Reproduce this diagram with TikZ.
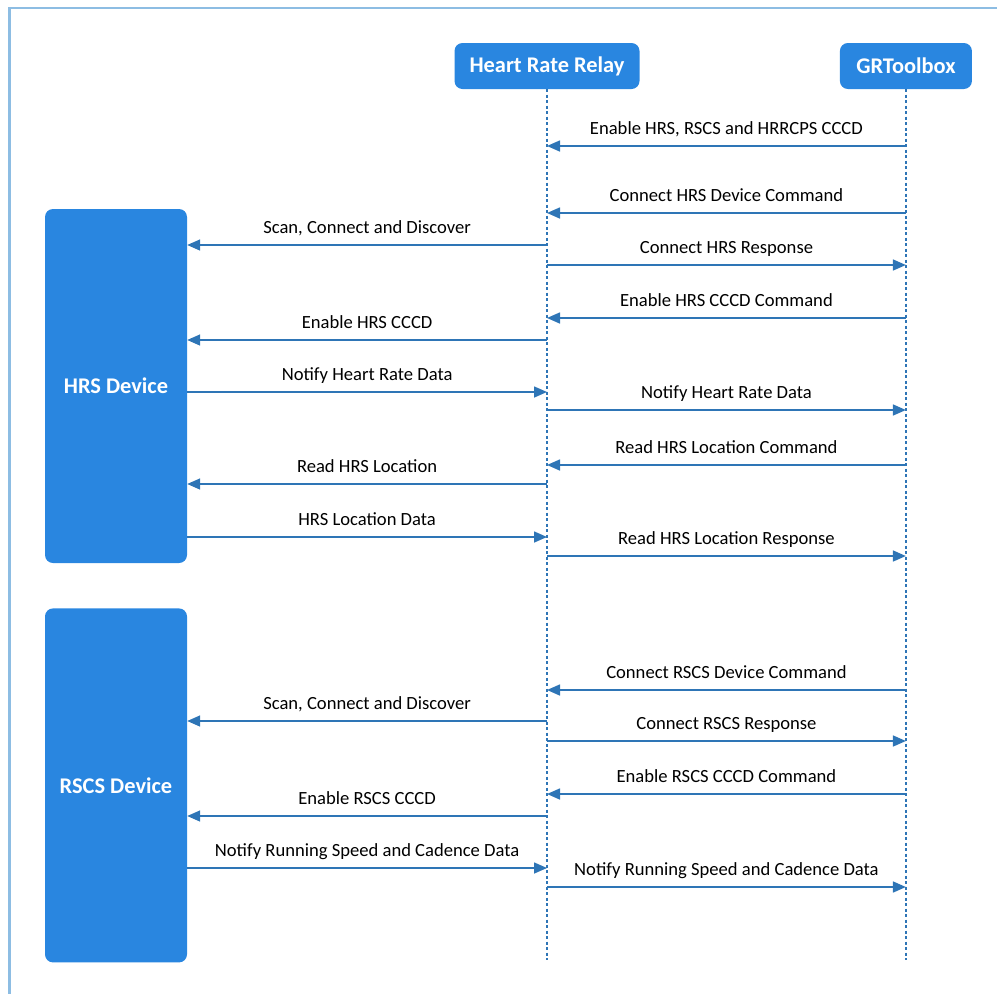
\documentclass[tikz,border=0pt]{standalone}
\usepackage{fontspec}
\setmainfont{Carlito}
\usetikzlibrary{positioning,arrows.meta}
\definecolor{boxblue}{HTML}{2986E0}
\definecolor{lineblue}{HTML}{2E75B6}
\definecolor{frameblue}{HTML}{8DBDE3}
\begin{document}
\begin{tikzpicture}[x=1pt, y=-1pt, node distance={45pt},
	head/.style = {fill=boxblue, text=white, rounded corners=8pt, inner sep=0pt, minimum height=46pt, font=\bfseries\fontsize{22.4}{26}\selectfont},
	dev/.style = {fill=boxblue, text=white, rounded corners=8pt, inner sep=0pt, minimum width=142pt, minimum height=354pt, font=\bfseries\fontsize{22.4}{26}\selectfont},
	life/.style = {lineblue, line width=2pt, dash pattern=on 3pt off 2.5pt},
	msg/.style = {lineblue, line width=1.6pt, -{Triangle[length=13pt,width=11pt]}},
	lbl/.style = {midway, above=16pt, anchor=center, inner sep=0pt, text height=13pt, text depth=4pt, text=black, font=\fontsize{18.6}{22}\selectfont}]
		\useasboundingbox (0,0) rectangle (997,994);
		\draw[frameblue, line width=2.5pt] (9.5,994) -- (9.5,8) -- (997,8);
		\node[head, minimum width=185pt] (relay) at (547,66) {Heart Rate Relay};
		\node[head, minimum width=132pt] (gr) [right=200pt of relay] {GRToolbox};
		\node[dev] (hrs) at (116,386) {HRS Device};
		\node[dev] (rscs) [below=of hrs] {RSCS Device};
		\coordinate (relayend) at (547,960);
		\draw[life] (relay.south) -- (relayend);
		\draw[life] (gr.south) -- (gr.south |- relayend);
		\coordinate (m1) at (547,146);
		\coordinate (m2) at (547,213);
		\coordinate (m3) at (547,245);
		\coordinate (m4) at (547,265);
		\coordinate (m5) at (547,318);
		\coordinate (m6) at (547,340);
		\coordinate (m7) at (547,392);
		\coordinate (m8) at (547,410);
		\coordinate (m9) at (547,465);
		\coordinate (m10) at (547,484);
		\coordinate (m11) at (547,537);
		\coordinate (m12) at (547,556);
		\coordinate (m13) at (547,690);
		\coordinate (m14) at (547,721);
		\coordinate (m15) at (547,741);
		\coordinate (m16) at (547,794);
		\coordinate (m17) at (547,816);
		\coordinate (m18) at (547,868);
		\coordinate (m19) at (547,887);
		\draw[msg] (m1 -| gr) to node[lbl] {Enable HRS, RSCS and HRRCPS CCCD} (m1);
		\draw[msg] (m2 -| gr) to node[lbl] {Connect HRS Device Command} (m2);
		\draw[msg] (m3) to node[lbl] {Scan, Connect and Discover} (m3 -| hrs.east);
		\draw[msg] (m4) to node[lbl] {Connect HRS Response} (m4 -| gr);
		\draw[msg] (m5 -| gr) to node[lbl] {Enable HRS CCCD Command} (m5);
		\draw[msg] (m6) to node[lbl] {Enable HRS CCCD} (m6 -| hrs.east);
		\draw[msg] (m7 -| hrs.east) to node[lbl] {Notify Heart Rate Data} (m7);
		\draw[msg] (m8) to node[lbl] {Notify Heart Rate Data} (m8 -| gr);
		\draw[msg] (m9 -| gr) to node[lbl] {Read HRS Location Command} (m9);
		\draw[msg] (m10) to node[lbl] {Read HRS Location} (m10 -| hrs.east);
		\draw[msg] (m11 -| hrs.east) to node[lbl] {HRS Location Data} (m11);
		\draw[msg] (m12) to node[lbl] {Read HRS Location Response} (m12 -| gr);
		\draw[msg] (m13 -| gr) to node[lbl] {Connect RSCS Device Command} (m13);
		\draw[msg] (m14) to node[lbl] {Scan, Connect and Discover} (m14 -| rscs.east);
		\draw[msg] (m15) to node[lbl] {Connect RSCS Response} (m15 -| gr);
		\draw[msg] (m16 -| gr) to node[lbl] {Enable RSCS CCCD Command} (m16);
		\draw[msg] (m17) to node[lbl] {Enable RSCS CCCD} (m17 -| rscs.east);
		\draw[msg] (m18 -| rscs.east) to node[lbl] {Notify Running Speed and Cadence Data} (m18);
		\draw[msg] (m19) to node[lbl] {Notify Running Speed and Cadence Data} (m19 -| gr);

	\end{tikzpicture}
\end{document}
